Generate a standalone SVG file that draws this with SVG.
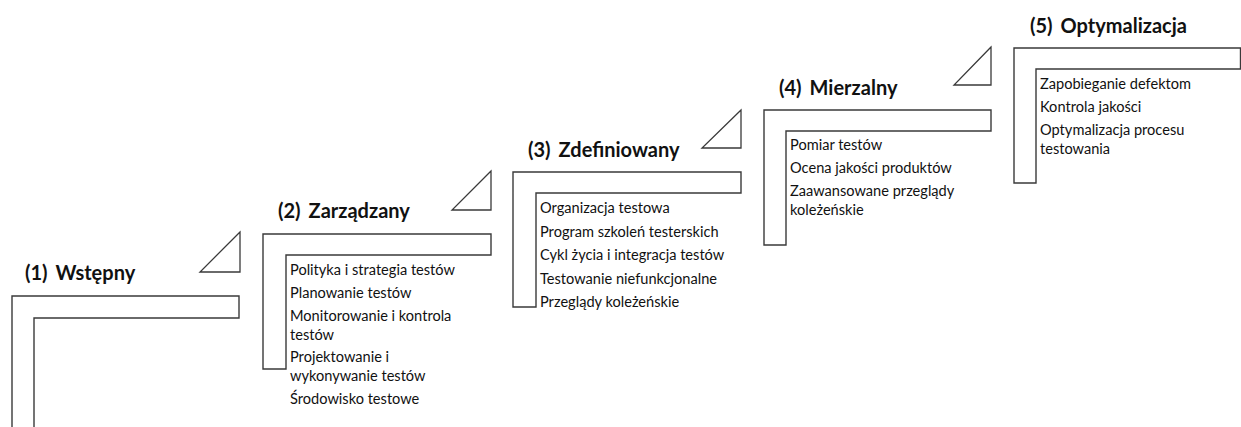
<svg xmlns="http://www.w3.org/2000/svg" width="1241" height="427" viewBox="0 0 1241 427">
<style>
.box{fill:#fff;stroke:#3a3a3a;stroke-width:1.4}
.tri{fill:#fff;stroke:#3a3a3a;stroke-width:1.3}
.title{font-family:Lato,"Liberation Sans",sans-serif;font-weight:bold;font-size:20px;fill:#111}
.item{font-family:Lato,"Liberation Sans",sans-serif;font-size:14.6px;fill:#111}
</style>
<rect width="1241" height="427" fill="#fff"/>
<g id="connectors">
<polygon class="tri" points="240,232 200,272 240,272"/>
<polygon class="tri" points="491,171 452,210 491,210"/>
<polygon class="tri" points="741,110 702,148 741,148"/>
<polygon class="tri" points="991,47 954,85 991,85"/>
</g>
<g id="step1">
<path class="box" d="M12,428 V296 H239 V318 H34 V428"/>
<text class="title" x="25" y="280">(1)<tspan dx="8">Wstępny</tspan></text>
</g>
<g id="step2">
<path class="box" d="M263,369 V234 H491 V255 H286 V369 Z"/>
<text class="title" x="278" y="218">(2)<tspan dx="8">Zarządzany</tspan></text>
<text class="item" x="290" y="274.5">Polityka i strategia testów</text>
<text class="item" x="290" y="297.5">Planowanie testów</text>
<text class="item" x="290" y="320.5">Monitorowanie i kontrola</text>
<text class="item" x="290" y="339.5">testów</text>
<text class="item" x="290" y="361.5">Projektowanie i</text>
<text class="item" x="290" y="380.5">wykonywanie testów</text>
<text class="item" x="290" y="404">Środowisko testowe</text>
</g>
<g id="step3">
<path class="box" d="M513,307 V172 H741 V193 H536 V307 Z"/>
<text class="title" x="528" y="157">(3)<tspan dx="8">Zdefiniowany</tspan></text>
<text class="item" x="540" y="213">Organizacja testowa</text>
<text class="item" x="540" y="236.5">Program szkoleń testerskich</text>
<text class="item" x="540" y="260">Cykl życia i integracja testów</text>
<text class="item" x="540" y="283.5">Testowanie niefunkcjonalne</text>
<text class="item" x="540" y="307">Przeglądy koleżeńskie</text>
</g>
<g id="step4">
<path class="box" d="M764,245 V110 H991 V131 H786 V245 Z"/>
<text class="title" x="779" y="95">(4)<tspan dx="8">Mierzalny</tspan></text>
<text class="item" x="790" y="150">Pomiar testów</text>
<text class="item" x="790" y="173">Ocena jakości produktów</text>
<text class="item" x="790" y="196">Zaawansowane przeglądy</text>
<text class="item" x="790" y="215">koleżeńskie</text>
</g>
<g id="step5">
<path class="box" d="M1014,183 V48 H1240.5 V69 H1036 V183 Z"/>
<text class="title" x="1030" y="33">(5)<tspan dx="8">Optymalizacja</tspan></text>
<text class="item" x="1040" y="88.5">Zapobieganie defektom</text>
<text class="item" x="1040" y="111.5">Kontrola jakości</text>
<text class="item" x="1040" y="134.5">Optymalizacja procesu</text>
<text class="item" x="1040" y="153.5">testowania</text>
</g>
</svg>
